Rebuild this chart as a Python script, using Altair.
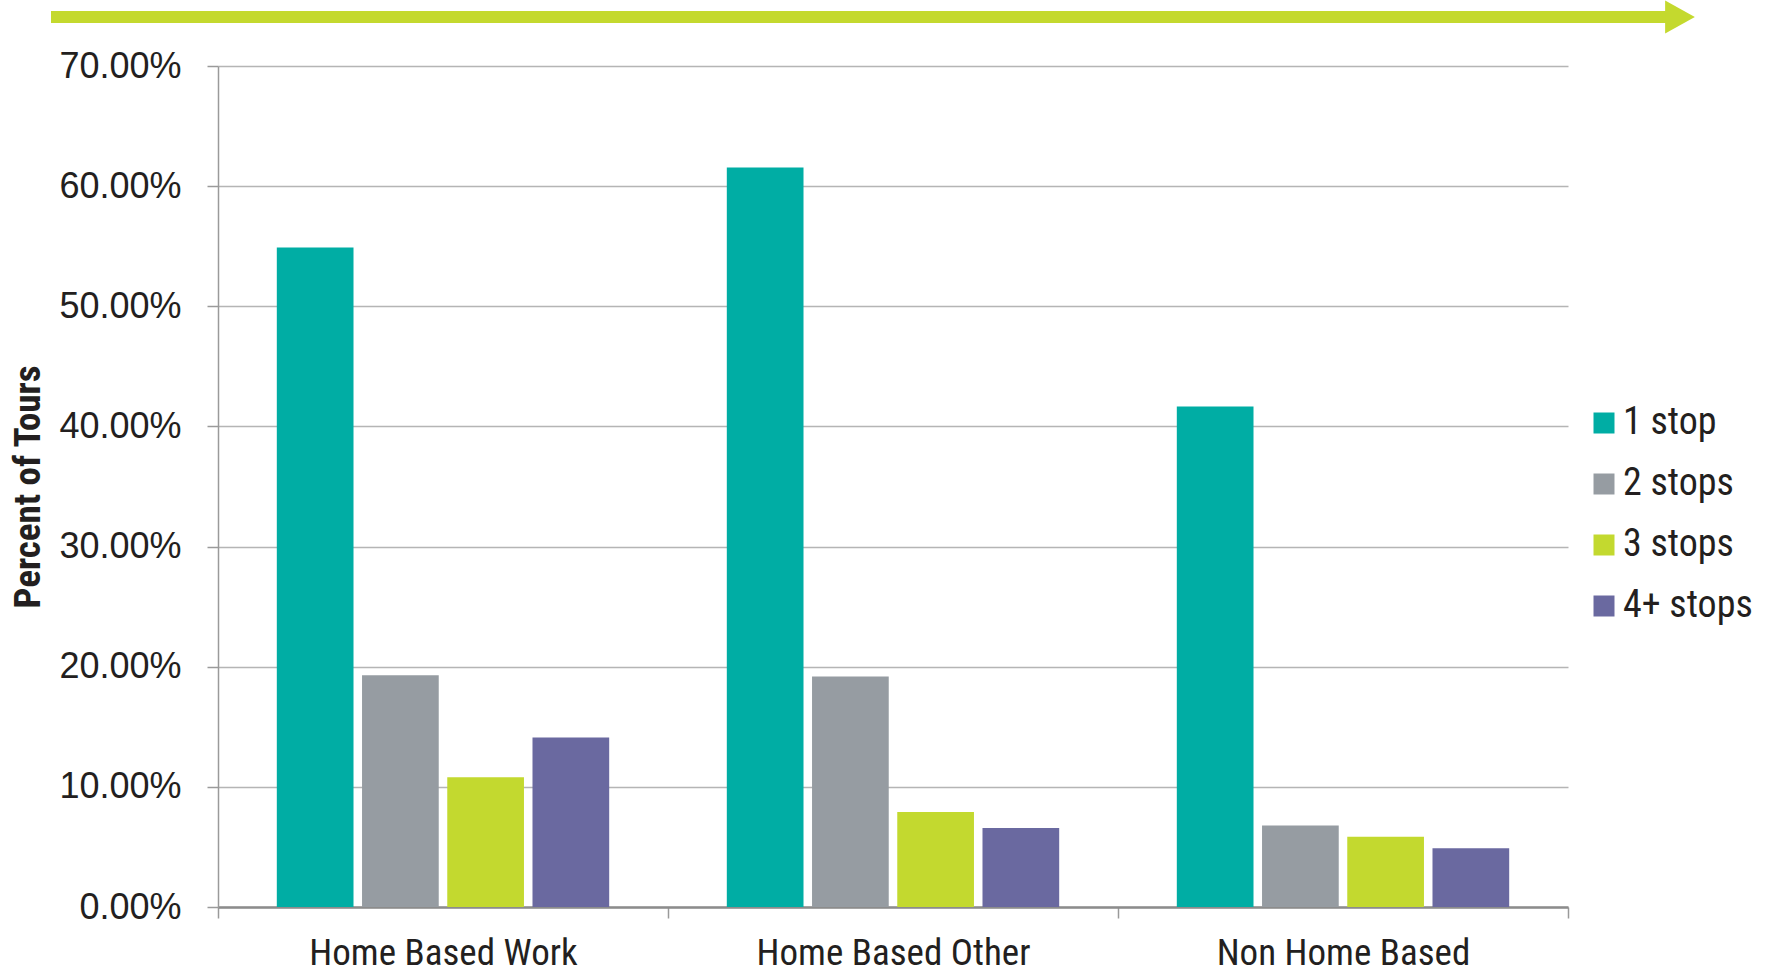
import altair as alt
import pandas as pd

categories = ["Home Based Work", "Home Based Other", "Non Home Based"]
series = ["1 stop", "2 stops", "3 stops", "4+ stops"]
colors = ["#00ADA4", "#969CA2", "#C3D92F", "#6A69A0"]
values = {
    "1 stop":   [0.5490, 0.6155, 0.4165],
    "2 stops":  [0.1928, 0.1918, 0.0678],
    "3 stops":  [0.1080, 0.0790, 0.0585],
    "4+ stops": [0.1410, 0.0658, 0.0490],
}

rows = []
for s in series:
    for c, v in zip(categories, values[s]):
        rows.append({"category": c, "series": s, "value": v})
df = pd.DataFrame(rows)

NARROW = "Liberation Sans Narrow, Roboto Condensed, DejaVu Sans Condensed, sans-serif"
REGULAR = "Liberation Sans, Arial, sans-serif"
W, H = 1350, 841

bars = alt.Chart(df).mark_bar().encode(
    x=alt.X("category:N", sort=categories,
            scale=alt.Scale(paddingInner=0, paddingOuter=0),
            axis=alt.Axis(title=None, labelAngle=0, labelFont=NARROW, labelFontSize=37,
                          labelColor="#231f20", labelPadding=17, labelLimit=600, tickBand="extent",
                          tickSize=11, tickColor="#9a9a9a", tickWidth=1.5,
                          domainColor="#8c8c8c", domainWidth=2.5, grid=False)),
    xOffset=alt.XOffset("series:N", sort=series,
                        scale=alt.Scale(paddingInner=0.1, paddingOuter=0.69)),
    y=alt.Y("value:Q", scale=alt.Scale(domain=[0, 0.7], nice=False),
            axis=alt.Axis(title="Percent of Tours", format=".2%", values=[0, 0.1, 0.2, 0.3, 0.4, 0.5, 0.6, 0.7],
                          labelFont=REGULAR, labelFontSize=36, labelColor="#231f20", labelPadding=26,
                          tickSize=11, tickColor="#9a9a9a", tickWidth=1.5,
                          domainColor="#9a9a9a", domainWidth=1.5,
                          gridColor="#b5b5b5", gridWidth=1.5,
                          titleFont=NARROW, titleFontSize=37, titleFontWeight="bold",
                          titleColor="#231f20", titleX=-190, titleY=H / 2,
                          titleBaseline="middle", titleAngle=270)),
    color=alt.Color("series:N", sort=series,
                    scale=alt.Scale(domain=series, range=colors),
                    legend=alt.Legend(title=None, orient="none", legendX=1367, legendY=338,
                                      symbolType="square", symbolSize=441, symbolStrokeWidth=0,
                                      labelFont=NARROW, labelFontSize=38, labelColor="#231f20",
                                      labelOffset=0, labelLimit=400, rowPadding=23, padding=0)),
)

arrow_line = alt.Chart(pd.DataFrame({"a": [0]})).mark_rule(
    color="#C4D92E", strokeWidth=12, strokeCap="butt", clip=False
).encode(x=alt.value(-167), x2=alt.value(1450), y=alt.value(-49))

arrow_head = alt.Chart(pd.DataFrame({"a": [0]})).mark_point(
    shape="M-0.9,-1L0.9,0L-0.9,1Z", filled=True, color="#C4D92E", opacity=1, size=1089, clip=False
).encode(x=alt.value(1462), y=alt.value(-49))

chart = alt.layer(bars, arrow_line, arrow_head).properties(
    width=W, height=H,
    background="white",
    autosize=alt.AutoSizeParams(type="none"),
    padding={"left": 218, "top": 66, "right": 203, "bottom": 65},
).configure_view(strokeWidth=0)

chart.save("out.html", embed_options={"renderer": "svg", "actions": False})
